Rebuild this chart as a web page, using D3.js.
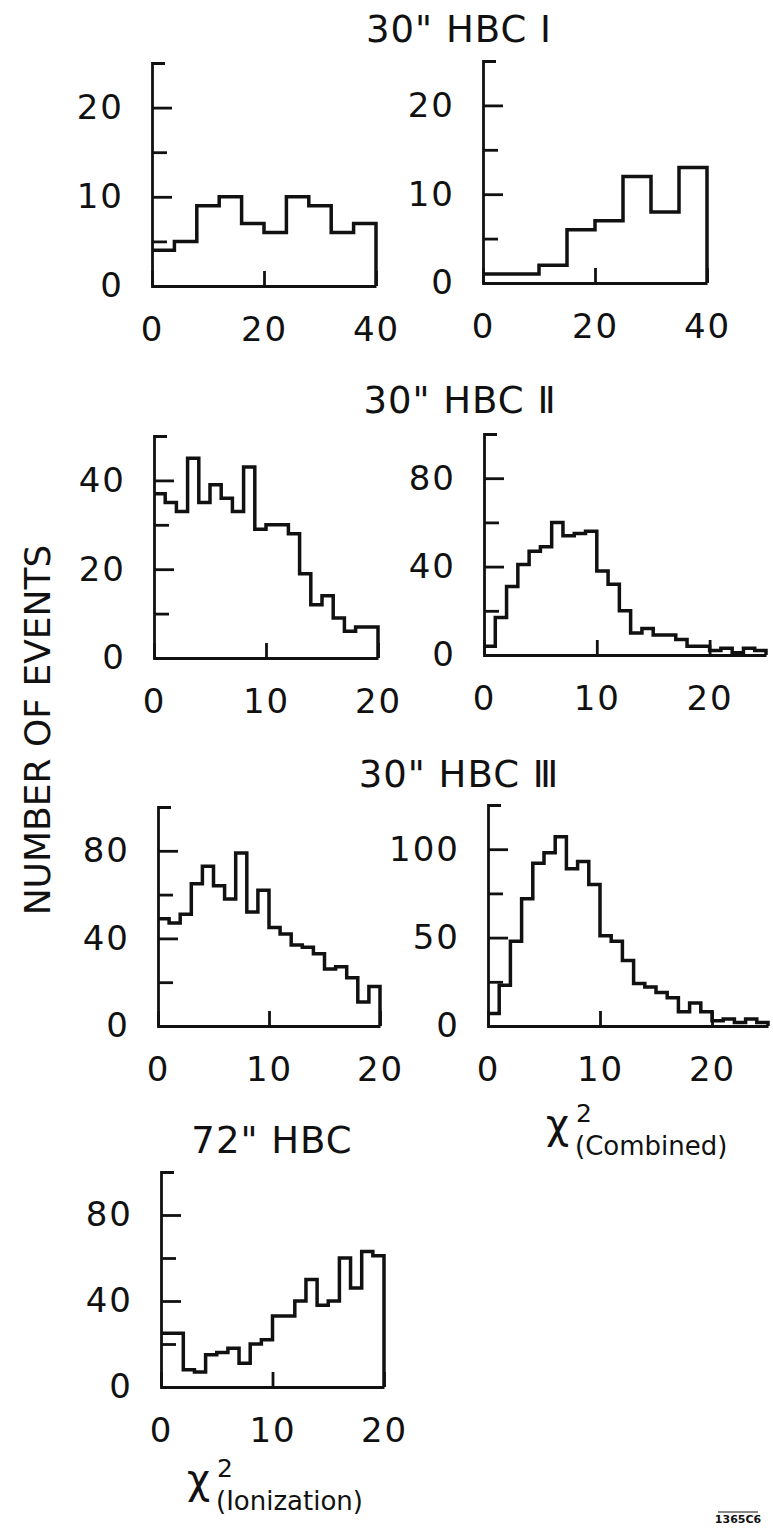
<!DOCTYPE html>
<html>
<head>
<meta charset="utf-8">
<script src="https://cdn.jsdelivr.net/npm/d3@7"></script>
<style>
  body { margin: 0; background: #fff; }
  svg text { font-family: "DejaVu Sans", sans-serif; fill: #111; }
</style>
</head>
<body>
<div id="chart"></div>
<script>
// counts per bin
const hbc1Ionization = [4, 5, 9, 10, 7, 6, 10, 9, 6, 7];          // bins of 4
const hbc1Combined   = [1, 1, 2, 6, 7, 12, 8, 13];                  // bins of 5
const hbc2Ionization = [37, 35, 33, 45, 35, 39, 36, 33, 43, 29, 30, 30, 28, 19, 12, 14, 9, 6, 7, 7];
const hbc2Combined   = [4, 17, 31, 41, 47, 49, 60, 54, 55, 56, 38, 32, 20, 10, 12, 9, 9, 7, 4, 4, 2, 3, 1, 3, 2];
const hbc3Ionization = [49, 47, 51, 65, 73, 64, 58, 79, 52, 62, 45, 42, 37, 36, 33, 26, 27, 22, 11, 18];
const hbc3Combined   = [7, 23, 48, 72, 92, 98, 107, 89, 93, 80, 51, 48, 37, 24, 22, 19, 16, 8, 13, 8, 3, 4, 2, 4, 2];
const hbc72Ionization = [25, 25, 8, 7, 15, 16, 18, 11, 20, 22, 33, 33, 40, 50, 38, 40, 60, 46, 63, 61];

// tick labels
const xTicks40 = [0, 20, 40];
const xTicks20 = [0, 10, 20];
const yTicks25 = [0, 10, 20];
const yTicks50 = [0, 20, 40];
const yTicks100 = [0, 40, 80];
const yTicks125 = [0, 50, 100];

const titles = ['30" HBC Ⅰ', '30" HBC Ⅱ', '30" HBC Ⅲ', '72" HBC'];

const width = 773, height = 1536;

const svg = d3.select("#chart").append("svg")
    .attr("width", width)
    .attr("height", height);

// layout of each small histogram
const panels = [
  { counts: hbc1Ionization, bin: 4, xMax: 40, xTicks: xTicks40, yMax: 25, yStep: 5, yTicks: yTicks25, x0: 152, x1: 376, top: 63, base: 286 },
  { counts: hbc1Combined, bin: 5, xMax: 40, xTicks: xTicks40, yMax: 25, yStep: 5, yTicks: yTicks25, x0: 483, x1: 707, top: 61, base: 283 },
  { counts: hbc2Ionization, bin: 1, xMax: 20, xTicks: xTicks20, yMax: 50, yStep: 10, yTicks: yTicks50, x0: 154, x1: 378, top: 436, base: 658 },
  { counts: hbc2Combined, bin: 1, xMax: 25, xTicks: xTicks20, yMax: 100, yStep: 20, yTicks: yTicks100, x0: 484, x1: 766, top: 434, base: 655 },
  { counts: hbc3Ionization, bin: 1, xMax: 20, xTicks: xTicks20, yMax: 100, yStep: 20, yTicks: yTicks100, x0: 158, x1: 380, top: 807, base: 1026 },
  { counts: hbc3Combined, bin: 1, xMax: 25, xTicks: xTicks20, yMax: 125, yStep: 25, yTicks: yTicks125, x0: 488, x1: 768, top: 805, base: 1026 },
  { counts: hbc72Ionization, bin: 1, xMax: 20, xTicks: xTicks20, yMax: 100, yStep: 20, yTicks: yTicks100, x0: 161, x1: 384, top: 1172, base: 1387 }
];

function styleAxis(g) {
  g.attr("font-family", '"DejaVu Sans", sans-serif')
   .attr("font-size", 34)
   .attr("letter-spacing", 2)
   .style("color", "#111");
  g.selectAll("line, path").attr("stroke-width", 2.8);
}

panels.forEach(p => {
  const x = d3.scaleLinear().domain([0, p.xMax]).range([p.x0, p.x1]);
  const y = d3.scaleLinear().domain([0, p.yMax]).range([p.base, p.top]);
  const g = svg.append("g");

  // small unlabelled ticks + top cap
  const minor = d3.range(p.yStep, p.yMax, p.yStep).filter(v => !p.yTicks.includes(v));
  g.append("g")
    .attr("transform", `translate(${p.x0},0)`)
    .call(d3.axisLeft(y).tickValues(minor).tickSizeInner(-15).tickSizeOuter(-13).tickFormat(""))
    .call(styleAxis);

  // labelled ticks
  g.append("g")
    .attr("transform", `translate(${p.x0},0)`)
    .call(d3.axisLeft(y).tickValues(p.yTicks).tickSizeInner(-20).tickSizeOuter(0).tickPadding(28))
    .call(styleAxis)
    .call(a => a.select(".domain").remove());

  // x axis: tick only at the middle value and the end
  g.append("g")
    .attr("transform", `translate(0,${p.base})`)
    .call(d3.axisBottom(x).tickValues(p.xTicks).tickSizeInner(-15).tickSizeOuter(0).tickPadding(31))
    .call(styleAxis);

  // histogram outline
  const pts = p.counts.map((c, i) => [i * p.bin, c]);
  const last = p.counts.length * p.bin;
  pts.push([last, p.counts[p.counts.length - 1]]);
  pts.push([last, 0]);

  const line = d3.line()
    .x(d => x(d[0]))
    .y(d => y(d[1]))
    .curve(d3.curveStepAfter);

  g.append("path")
    .datum(pts)
    .attr("d", line)
    .attr("fill", "none")
    .attr("stroke", "#111")
    .attr("stroke-width", 3.5)
    .attr("stroke-linejoin", "miter");
});

// titles
const titlePos = [[459, 42], [460, 413], [459, 787], [272, 1153]];
svg.selectAll(".title")
  .data(titles)
  .join("text")
  .attr("class", "title")
  .attr("x", (d, i) => titlePos[i][0])
  .attr("y", (d, i) => titlePos[i][1])
  .attr("text-anchor", "middle")
  .attr("font-size", 37)
  .attr("letter-spacing", 1)
  .text(d => d);

// y label
svg.append("text")
  .attr("transform", "translate(50,730) rotate(-90)")
  .attr("text-anchor", "middle")
  .attr("font-size", 36)
  .text("NUMBER OF EVENTS");

// chi-square labels
function chiLabel(xx, yy, sub) {
  const t = svg.append("text");
  t.append("tspan").attr("x", xx).attr("y", yy).attr("font-size", 40).text("χ");
  t.append("tspan").attr("x", xx + 30).attr("y", yy - 16).attr("font-size", 25).text("2");
  t.append("tspan").attr("x", xx + 29).attr("y", yy + 17).attr("font-size", 26).text(sub);
}
chiLabel(546, 1138, "(Combined)");
chiLabel(187, 1493, "(Ionization)");

// figure number
svg.append("text")
  .attr("x", 738)
  .attr("y", 1523)
  .attr("text-anchor", "middle")
  .attr("font-size", 11)
  .attr("font-weight", "bold")
  .text("1365C6");
svg.append("line")
  .attr("x1", 718).attr("x2", 758)
  .attr("y1", 1512).attr("y2", 1512)
  .attr("stroke", "#111")
  .attr("stroke-width", 1.2);
</script>
</body>
</html>
